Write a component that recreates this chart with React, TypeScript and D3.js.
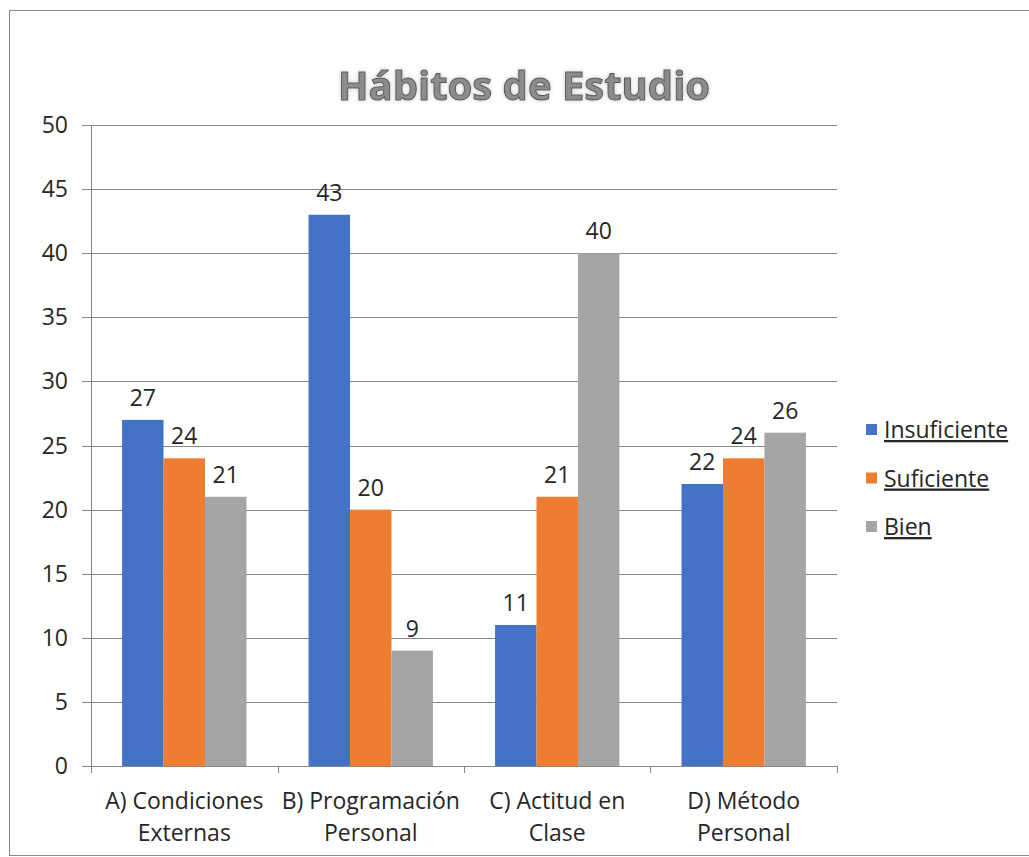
import React, { useEffect, useRef } from 'react';
import * as d3 from 'd3';

// Hábitos de Estudio
const categories = ['A) Condiciones Externas', 'B) Programación Personal', 'C) Actitud en Clase', 'D) Método Personal'];
const categoryLines = [
  ['A) Condiciones', 'Externas'],
  ['B) Programación', 'Personal'],
  ['C) Actitud en', 'Clase'],
  ['D) Método', 'Personal'],
];
const seriesNames = ['Insuficiente', 'Suficiente', 'Bien'];
const insuficiente = [27, 43, 11, 22];
const suficiente = [24, 20, 21, 24];
const bien = [21, 9, 40, 26];
const yTicks = [0, 5, 10, 15, 20, 25, 30, 35, 40, 45, 50];

const colors = ['#4472C4', '#ED7D31', '#A5A5A5'];
const FONT = '"Open Sans", sans-serif';

const App = () => {
  const svgRef = useRef<SVGSVGElement>(null);

  useEffect(() => {
    const svg = d3.select(svgRef.current);
    svg.selectAll('*').remove();
    const width = 1029;
    const left = 91;
    const right = 837;
    const top = 125;
    const bottom = 766;

    const values = [insuficiente, suficiente, bien];

    // frame
    svg.append('rect')
      .attr('x', 9.5).attr('y', 10.5)
      .attr('width', width + 20).attr('height', 845)
      .attr('fill', '#fff').attr('stroke', '#8a8a8a');

    // title
    const defs = svg.append('defs');
    const f = defs.append('filter').attr('id', 'glow').attr('x', '-10%').attr('y', '-30%').attr('width', '120%').attr('height', '160%');
    f.append('feGaussianBlur').attr('in', 'SourceAlpha').attr('stdDeviation', 2).attr('result', 'b');
    f.append('feFlood').attr('flood-color', '#c8c8c8').attr('result', 'c');
    f.append('feComposite').attr('in', 'c').attr('in2', 'b').attr('operator', 'in').attr('result', 's');
    const m = f.append('feMerge');
    m.append('feMergeNode').attr('in', 's');
    m.append('feMergeNode').attr('in', 'SourceGraphic');

    svg.append('text')
      .attr('x', 524).attr('y', 100)
      .attr('text-anchor', 'middle')
      .attr('font-family', FONT).attr('font-weight', 'bold').attr('font-size', 40)
      .attr('fill', '#8c8c8c').attr('stroke', '#5a5a5a').attr('stroke-width', 1)
      .attr('filter', 'url(#glow)')
      .text('Hábitos de Estudio');

    const x0 = d3.scaleBand<string>()
      .domain(categories)
      .range([left, right])
      .paddingInner(0.333)
      .paddingOuter(0.1667);

    const x1 = d3.scaleBand<string>()
      .domain(seriesNames)
      .range([0, x0.bandwidth()]);

    const y = d3.scaleLinear().domain([0, 50]).range([bottom, top]);

    // gridlines + y ticks
    svg.append('g').selectAll('line')
      .data(yTicks)
      .join('line')
      .attr('x1', left - 9).attr('x2', right)
      .attr('y1', d => Math.round(y(d)) + 0.5).attr('y2', d => Math.round(y(d)) + 0.5)
      .attr('stroke', '#868686').attr('stroke-width', 1);

    svg.append('g').selectAll('text')
      .data(yTicks)
      .join('text')
      .attr('x', 68).attr('y', d => y(d))
      .attr('dy', '0.35em')
      .attr('text-anchor', 'end')
      .attr('font-family', FONT).attr('font-size', 23).attr('fill', '#262626')
      .text(d => d);

    // axes lines
    svg.append('line')
      .attr('x1', left + 0.5).attr('x2', left + 0.5)
      .attr('y1', top).attr('y2', bottom)
      .attr('stroke', '#868686');

    const step = x0.step();
    const catTicks = categories.map(c => (x0(c) as number) - x0.paddingInner() * step / 2).concat([right]);
    svg.append('g').selectAll('line')
      .data(catTicks)
      .join('line')
      .attr('x1', d => Math.round(d) + 0.5).attr('x2', d => Math.round(d) + 0.5)
      .attr('y1', bottom).attr('y2', bottom + 7)
      .attr('stroke', '#868686');

    // bars
    const groups = svg.append('g').selectAll('g')
      .data(categories)
      .join('g')
      .attr('transform', c => `translate(${x0(c)},0)`);

    groups.each(function (c, ci) {
      const g = d3.select(this);
      seriesNames.forEach((s, si) => {
        const v = values[si][ci];
        g.append('rect')
          .attr('x', x1(s) as number)
          .attr('y', y(v))
          .attr('width', x1.bandwidth())
          .attr('height', bottom - y(v))
          .attr('fill', colors[si]);
        g.append('text')
          .attr('x', (x1(s) as number) + x1.bandwidth() / 2)
          .attr('y', y(v) - 14)
          .attr('text-anchor', 'middle')
          .attr('font-family', FONT).attr('font-size', 23).attr('fill', '#262626')
          .text(v);
      });
    });

    // x labels
    svg.append('g').selectAll('text')
      .data(categories)
      .join('text')
      .attr('text-anchor', 'middle')
      .attr('font-family', FONT).attr('font-size', 23).attr('fill', '#262626')
      .each(function (c, i) {
        const t = d3.select(this);
        const cx = (x0(c) as number) + x0.bandwidth() / 2;
        categoryLines[i].forEach((line, li) => {
          t.append('tspan').attr('x', cx).attr('y', 809 + li * 32).text(line);
        });
      });

    // legend
    const legend = svg.append('g').selectAll('g')
      .data(seriesNames)
      .join('g')
      .attr('transform', (d, i) => `translate(866,${430 + i * 48.5})`);
    legend.append('rect')
      .attr('x', 0).attr('y', -6).attr('width', 11).attr('height', 11)
      .attr('fill', (d, i) => colors[i]);
    legend.append('text')
      .attr('x', 18).attr('y', 8)
      .attr('font-family', FONT).attr('font-size', 23).attr('fill', '#262626')
      .attr('text-decoration', 'underline')
      .text(d => d);
  }, []);

  return (
    <svg ref={svgRef} width={1029} height={857}
      style={{ position: 'absolute', left: 0, top: 0, background: '#fff' }} />
  );
};

export default App;
